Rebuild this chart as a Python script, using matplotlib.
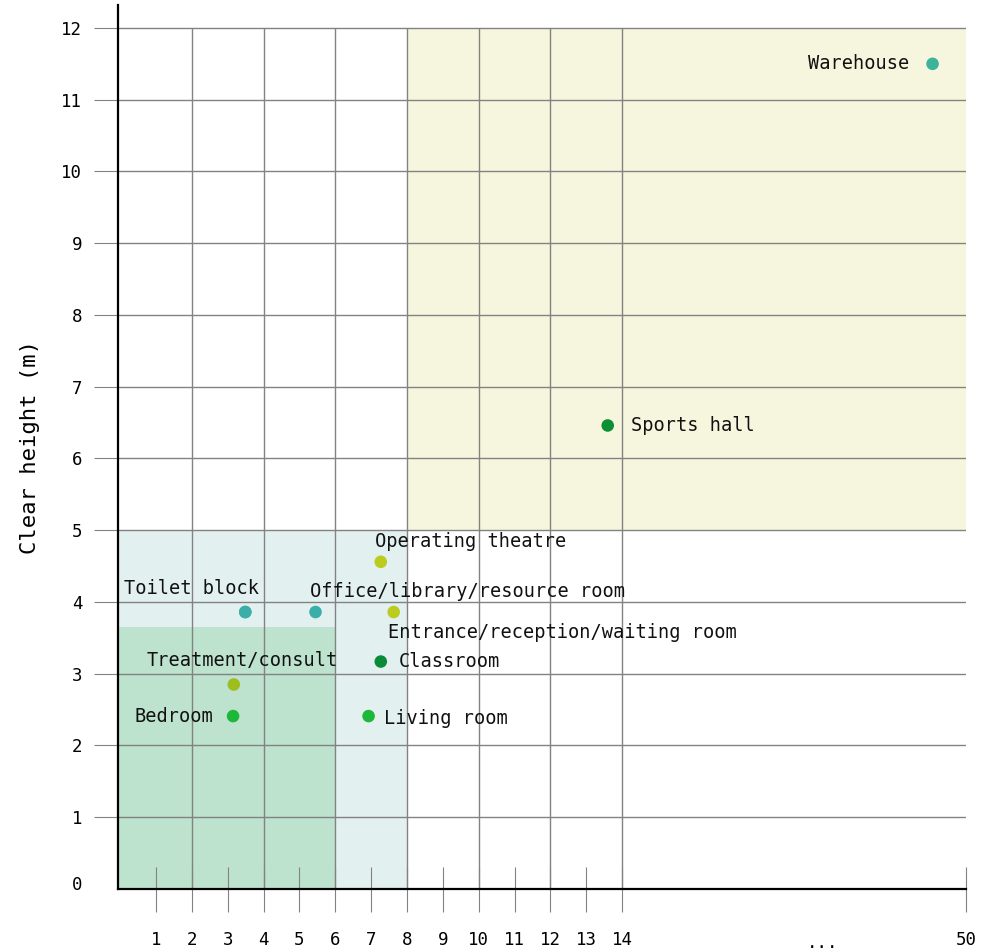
import matplotlib.pyplot as plt
import matplotlib.transforms as mtransforms
import numpy as np

# room types: floor-ish span on x, clear height on y
names = ['Warehouse', 'Sports hall', 'Operating theatre', 'Office/library/resource room',
         'Entrance/reception/waiting room', 'Classroom', 'Living room', 'Toilet block',
         'Treatment/consult', 'Bedroom', '']
x_vals = [46.5, 13.6, 7.27, 5.45, 7.63, 7.27, 6.93, 3.49, 3.17, 3.15, 3.49]
y_vals = [11.5, 6.46, 4.56, 3.86, 3.86, 3.17, 2.41, 3.86, 2.85, 2.41, 3.86]
colors = ['#3db39c', '#0e8f34', '#bccb1f', '#3aafa9', '#bccb1f', '#0b8a3a', '#1db83a',
          '#3aafa9', '#9dbe1e', '#1db83a', '#3aafa9']
# label offsets (points) and alignment
offsets = [(-17, 0, 'right'), (17, 0, 'left'), (-4, 14.5, 'left'), (-4, 15, 'left'),
           (-4, -15, 'left'), (13, 0, 'left'), (11, -2, 'left'), (10, 17, 'right'),
           (6, 17, 'center'), (-14, 0, 'right'), (0, 0, 'left')]

x_ticks = list(range(1, 15)) + [50]
y_ticks = list(range(0, 13))
grid_x = [2, 4, 6, 8, 10, 12, 14]

# shaded zones: (x0, x1, y0, y1, colour)
zones = [(8, 50, 5, 12, '#f6f6de'), (0, 8, 0, 5, '#e2f0ef'), (0, 6, 0, 3.65, '#bde3cf')]

BREAK = 14
SQUEEZE = 0.2665


def fwd(x):
    x = np.asarray(x, dtype=float)
    return np.where(x <= BREAK, x, BREAK + (x - BREAK) * SQUEEZE)


def inv(x):
    x = np.asarray(x, dtype=float)
    return np.where(x <= BREAK, x, BREAK + (x - BREAK) / SQUEEZE)


plt.rcParams['font.family'] = ['DejaVu Sans Mono']

fig = plt.figure(figsize=(10.04, 9.52), dpi=100)
ax = fig.add_axes([118 / 1004, 63 / 952, 848 / 1004, 884 / 952])
ax.set_xscale('function', functions=(fwd, inv))
x_left = -0.06
ax.set_xlim(x_left, 50)
ax.set_ylim(0, 12.32)

for x0, x1, y0, y1, c in zones:
    x0 = max(x0, x_left) if x0 > 0 else x_left
    ax.fill_between([x0, x1], y0, y1, color=c, lw=0, zorder=0)

grid_col = '#828282'
ax.set_yticks(y_ticks)
ax.yaxis.grid(True, color=grid_col, lw=1.0, zorder=1)
ax.vlines(grid_x, 0, 12, color=grid_col, lw=1.0, zorder=1)
ax.set_axisbelow(True)

ax.tick_params(axis='y', direction='out', length=17.3, width=0.8, color=grid_col,
               pad=8.5, labelsize=12.5)
zero_tick = ax.yaxis.get_major_ticks()[0]
zero_tick.tick1line.set_visible(False)
zero_tick.label1.set_transform(zero_tick.label1.get_transform() +
                               mtransforms.ScaledTranslation(0, 6 / 100, fig.dpi_scale_trans))

ax.set_xticks(x_ticks)
ax.set_xticklabels([str(t) for t in x_ticks])
ax.minorticks_off()
ax.tick_params(axis='x', direction='inout', length=32.4, width=0.8, color=grid_col,
               pad=14, labelsize=12.5)
ax.text(35, -0.75, '...', ha='center', va='center', fontsize=12.5)

for s in ['top', 'right']:
    ax.spines[s].set_visible(False)
ax.spines['left'].set_linewidth(1.6)
ax.spines['bottom'].set_linewidth(1.6)
ax.spines['left'].set_zorder(5)
ax.spines['bottom'].set_zorder(5)

ax.scatter(x_vals, y_vals, s=82, c=colors, lw=0, zorder=3, clip_on=False)
for name, x, y, (dx, dy, ha) in zip(names, x_vals, y_vals, offsets):
    if not name:
        continue
    ax.annotate(name, (x, y), xytext=(dx, dy), textcoords='offset points',
                ha=ha, va='center', fontsize=13.4, color='#111111', zorder=4)

ax.set_ylabel('Clear height (m)', fontsize=16, labelpad=15)

fig.savefig('out.png', dpi=100)
